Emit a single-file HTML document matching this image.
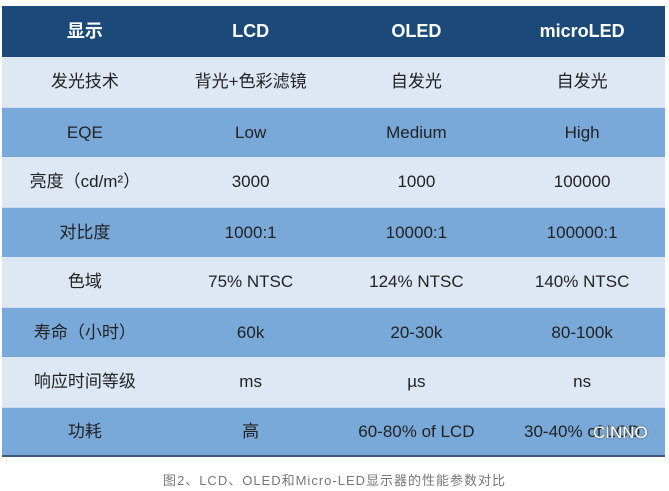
<!DOCTYPE html>
<html><head><meta charset="utf-8"><style>
body{margin:0;width:669px;height:491px;background:#fff;overflow:hidden;font-family:"Liberation Sans","Noto Sans CJK SC",sans-serif;}
.t{position:absolute;left:2px;top:6px;width:663px;}
.r{height:50px;font-size:17px;color:#222;overflow:hidden;white-space:nowrap;}
.r div{float:left;width:25%;text-align:center;line-height:50px;height:50px;}
.h{background:#1b4a7a;color:#fff;font-weight:bold;font-size:18px;height:51px;}
.h div{line-height:51px;height:51px;}
.l{background:#dde8f4;}
.m{background:#79a9d8;border-top:1px solid #c8dbef;height:49px;}
.m div{line-height:49px;height:49px;}
.last{border-bottom:2px solid #3e5a78;height:47px;}
.last div{line-height:47px;height:47px;}
.cap{position:absolute;top:470px;left:0;width:669px;text-align:center;font-size:13px;color:#777;letter-spacing:1px;}
.wm{position:absolute;left:593px;top:423px;color:#fff;font-size:17px;text-shadow:0 0 2px #555;}
</style></head><body>
<div class="t">
<div class="r h"><div>显示</div><div>LCD</div><div>OLED</div><div>microLED</div></div>
<div class="r l"><div>发光技术</div><div>背光+色彩滤镜</div><div>自发光</div><div>自发光</div></div>
<div class="r m"><div>EQE</div><div>Low</div><div>Medium</div><div>High</div></div>
<div class="r l"><div>亮度（cd/m²）</div><div>3000</div><div>1000</div><div>100000</div></div>
<div class="r m"><div>对比度</div><div>1000:1</div><div>10000:1</div><div>100000:1</div></div>
<div class="r l"><div>色域</div><div>75% NTSC</div><div>124% NTSC</div><div>140% NTSC</div></div>
<div class="r m"><div>寿命（小时）</div><div>60k</div><div>20-30k</div><div>80-100k</div></div>
<div class="r l"><div>响应时间等级</div><div>ms</div><div>µs</div><div>ns</div></div>
<div class="r m last"><div>功耗</div><div>高</div><div>60-80% of LCD</div><div>30-40% of LCD</div></div>
</div>
<div class="wm">CINNO</div>
<div class="cap">图2、LCD、OLED和Micro-LED显示器的性能参数对比</div>
</body></html>
